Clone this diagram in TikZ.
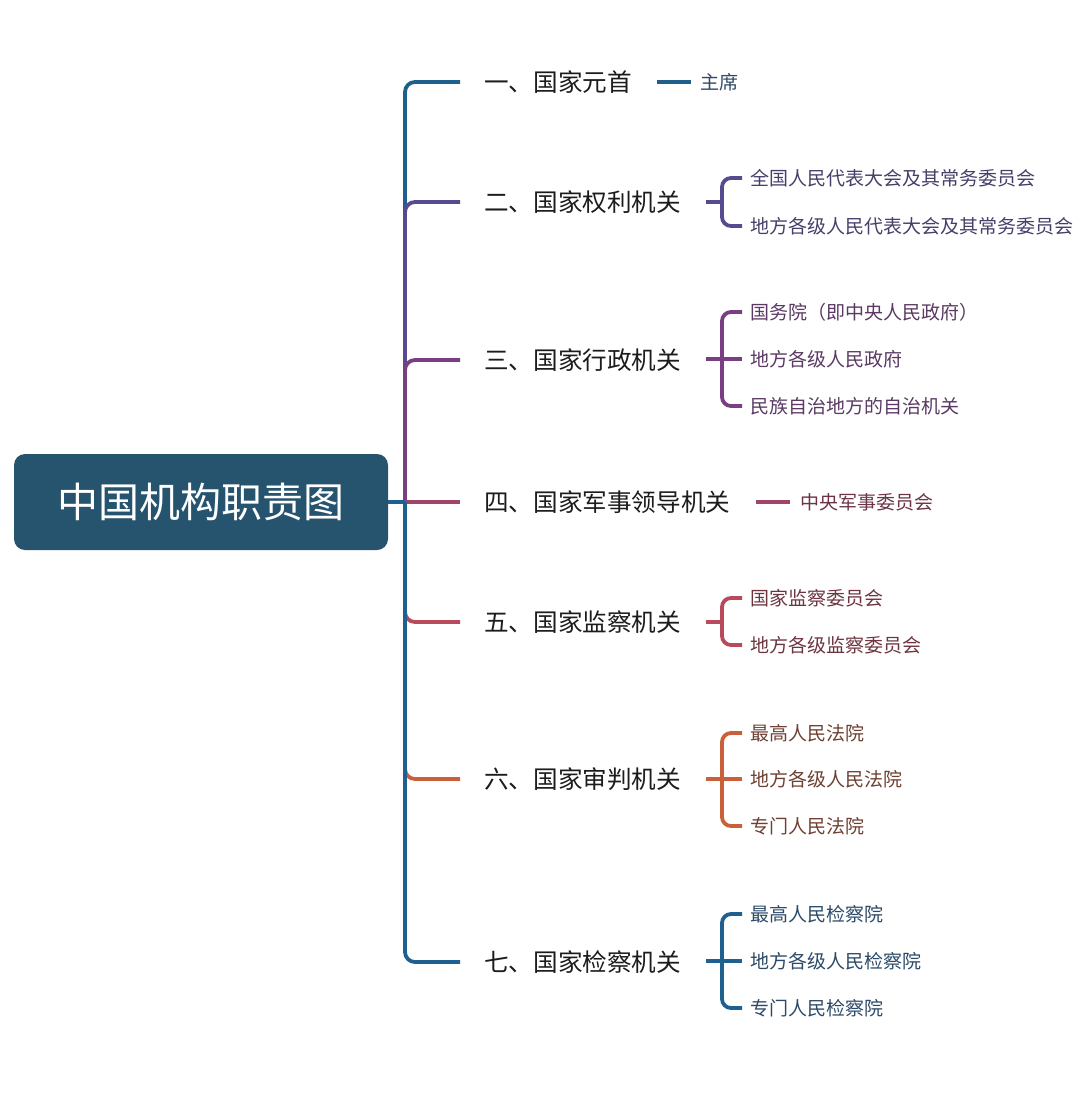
\documentclass[tikz,border=0pt]{standalone}
\usepackage{fontspec}
\setmainfont{Noto Sans CJK SC}
\usetikzlibrary{calc}
\definecolor{boxcol}{HTML}{26546E}
\definecolor{ca}{HTML}{1E5F8C}
\definecolor{cb}{HTML}{574A90}
\definecolor{cc}{HTML}{7A3F82}
\definecolor{cd}{HTML}{A2436A}
\definecolor{ce}{HTML}{B84A5C}
\definecolor{cf}{HTML}{C9603A}
\definecolor{cg}{HTML}{1F6090}
\definecolor{ta}{HTML}{2F4A66}
\definecolor{tb}{HTML}{45406A}
\definecolor{tc}{HTML}{5A3A63}
\definecolor{td}{HTML}{6B3448}
\definecolor{te}{HTML}{6E3540}
\definecolor{tf}{HTML}{6E4032}
\definecolor{tg}{HTML}{2C4A68}
\definecolor{labcol}{HTML}{1C1C1C}
\begin{document}
\begin{tikzpicture}[x=1pt,y=-1pt,
  rootbox/.style={fill=boxcol, rounded corners=11pt, minimum width=374pt, minimum height=96pt,
    inner sep=0pt, text=white, font=\fontsize{41}{41}\selectfont},
  lab/.style={anchor=west, inner sep=0pt, text=labcol, font=\fontsize{24.6}{25}\selectfont},
  item/.style={anchor=west, inner sep=0pt, font=\fontsize{19}{19}\selectfont},
  br/.style={line width=3.8pt, rounded corners=10pt},
  bk/.style={line width=3.8pt, rounded corners=9pt}
]
\useasboundingbox (0,0) rectangle (1080,1117);
\fill[white] (0,0) rectangle (1080,1117);

\node[rootbox] (root) at (201,502) {中国机构职责图};
\coordinate (sp) at (405,502);

% level-1 labels
\node[lab] (b1) at (484,82)  {一、国家元首};
\node[lab] (b2) at (484,202) {二、国家权利机关};
\node[lab] (b3) at (484,360) {三、国家行政机关};
\node[lab] (b4) at (484,502) {四、国家军事领导机关};
\node[lab] (b5) at (484,622) {五、国家监察机关};
\node[lab] (b6) at (484,779) {六、国家审判机关};
\node[lab] (b7) at (484,962) {七、国家检察机关};

% items
\node[item, text=ta] (i11) at (700,82) {主席};
\node[item, text=tb] (i21) at (750,178) {全国人民代表大会及其常务委员会};
\node[item, text=tb] (i22) at (750,226) {地方各级人民代表大会及其常务委员会};
\node[item, text=tc] (i31) at (750,312) {国务院（即中央人民政府）};
\node[item, text=tc] (i32) at (750,359) {地方各级人民政府};
\node[item, text=tc] (i33) at (750,406) {民族自治地方的自治机关};
\node[item, text=td] (i41) at (800,502) {中央军事委员会};
\node[item, text=te] (i51) at (750,598) {国家监察委员会};
\node[item, text=te] (i52) at (750,645) {地方各级监察委员会};
\node[item, text=tf] (i61) at (750,733) {最高人民法院};
\node[item, text=tf] (i62) at (750,779) {地方各级人民法院};
\node[item, text=tf] (i63) at (750,826) {专门人民法院};
\node[item, text=tg] (i71) at (750,914) {最高人民检察院};
\node[item, text=tg] (i72) at (750,961) {地方各级人民检察院};
\node[item, text=tg] (i73) at (750,1008) {专门人民检察院};

% spine branches
\draw[br, ca] (sp) |- ($(b1.west)+(-24,0)$);
\draw[br, cb] (sp) |- ($(b2.west)+(-24,0)$);
\draw[br, cc] (sp) |- ($(b3.west)+(-24,0)$);
\draw[br, cd] (sp) -- ($(b4.west)+(-24,0)$);
\draw[br, ce] (sp) |- ($(b5.west)+(-24,0)$);
\draw[br, cf] (sp) |- ($(b6.west)+(-24,0)$);
\draw[br, cg] (sp) |- ($(b7.west)+(-24,0)$);
\draw[line width=3.8pt, cg] (root.east) -- (sp);

% single items
\draw[line width=3.8pt, ca] ($(i11.west)+(-43,0)$) -- ($(i11.west)+(-9,0)$);
\draw[line width=3.8pt, cd] ($(i41.west)+(-44,0)$) -- ($(i41.west)+(-10,0)$);

% brackets
\coordinate (k2) at (722,202);
\draw[line width=3.8pt, cb] (706,202) -- (k2);
\draw[bk, cb] ($(i21.west)+(-8,0)$) -| (k2) |- ($(i22.west)+(-8,0)$);

\coordinate (k3) at (722,359);
\draw[line width=3.8pt, cc] (706,359) -- ($(i32.west)+(-8,0)$);
\draw[bk, cc] ($(i31.west)+(-8,0)$) -| (k3) |- ($(i33.west)+(-8,0)$);

\coordinate (k5) at (722,622);
\draw[line width=3.8pt, ce] (706,622) -- (k5);
\draw[bk, ce] ($(i51.west)+(-8,0)$) -| (k5) |- ($(i52.west)+(-8,0)$);

\coordinate (k6) at (722,779);
\draw[line width=3.8pt, cf] (706,779) -- ($(i62.west)+(-8,0)$);
\draw[bk, cf] ($(i61.west)+(-8,0)$) -| (k6) |- ($(i63.west)+(-8,0)$);

\coordinate (k7) at (722,961);
\draw[line width=3.8pt, cg] (706,961) -- ($(i72.west)+(-8,0)$);
\draw[bk, cg] ($(i71.west)+(-8,0)$) -| (k7) |- ($(i73.west)+(-8,0)$);
\end{tikzpicture}
\end{document}
